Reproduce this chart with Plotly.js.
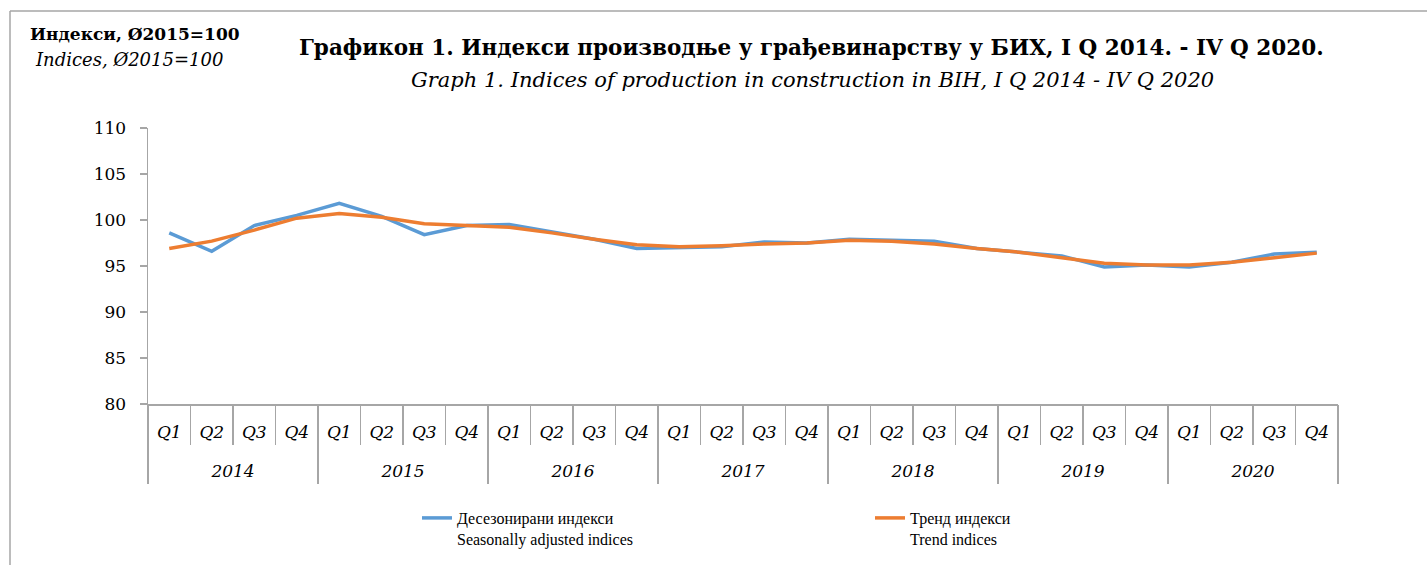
<!DOCTYPE html>
<html>
<head>
<meta charset="utf-8">
<script src="https://cdn.plot.ly/plotly-3.0.1.min.js"></script>
<style>html,body{margin:0;padding:0;background:#fff;}#chart{width:1427px;height:565px;}</style>
</head>
<body>
<div id="chart"></div>
<script>
const years = ['2014','2015','2016','2017','2018','2019','2020'];
const quarters = ['Q1','Q2','Q3','Q4'];
const seasonallyAdjusted = [
  98.6, 96.6, 99.4, 100.5,
  101.8, 100.4, 98.4, 99.4,
  99.5, 98.7, 97.9, 96.9,
  97.0, 97.1, 97.6, 97.5,
  97.9, 97.8, 97.7, 96.9,
  96.5, 96.1, 94.9, 95.1,
  94.9, 95.4, 96.3, 96.5
];
const trendIndices = [
  96.9, 97.7, 98.9, 100.2,
  100.7, 100.3, 99.6, 99.4,
  99.2, 98.6, 97.9, 97.3,
  97.1, 97.2, 97.4, 97.5,
  97.8, 97.7, 97.4, 96.9,
  96.5, 95.9, 95.3, 95.1,
  95.1, 95.4, 95.9, 96.4
];
const seriesNames = ['Десезонирани индекси<br>Seasonally adjusted indices', 'Тренд индекси<br>Trend indices'];
const yTicks = [80, 85, 90, 95, 100, 105, 110];

// one category per quarter (unique key), labelled with the quarter name
const periodKeys = [], periodLabels = [];
years.forEach(y => quarters.forEach(q => { periodKeys.push(y + ' ' + q); periodLabels.push(q); }));

const SERIF = 'DejaVu Serif, serif';
const NARROW = 'Liberation Serif, serif';
const AX = '#A6A6A6';

const traces = [
  {x: periodKeys, y: seasonallyAdjusted, name: seriesNames[0], type: 'scatter', mode: 'lines',
   line: {color: '#5B9BD5', width: 3.5}},
  {x: periodKeys, y: trendIndices, name: seriesNames[1], type: 'scatter', mode: 'lines',
   line: {color: '#ED7D31', width: 3.5}},
  // carrier for the year axis (no visible marks)
  {x: years, y: years.map(() => null), xaxis: 'x2', type: 'scatter', mode: 'lines',
   showlegend: false, hoverinfo: 'skip'}
];

const px2x = p => (p - 148) / 1190;
const px2y = p => (404 - p) / 276;

const layout = {
  width: 1427, height: 565,
  margin: {l: 148, r: 89, t: 128, b: 161, autoexpand: false},
  paper_bgcolor: '#fff', plot_bgcolor: '#fff',
  font: {family: SERIF, color: '#000', size: 18},
  showlegend: true,
  legend: {orientation: 'h', x: px2x(417), xanchor: 'left', y: px2y(501), yanchor: 'top',
           font: {family: NARROW, size: 16, color: '#000'}, entrywidth: 408, valign: 'top',
           tracegroupgap: 0, itemclick: false},
  xaxis: {type: 'category', categoryorder: 'array', categoryarray: periodKeys,
          range: [-0.5, 27.5], automargin: false,
          tickmode: 'array', tickvals: periodKeys, ticktext: periodLabels,
          tickson: 'boundaries',
          showline: true, linecolor: AX, linewidth: 1.5,
          ticks: 'outside', ticklen: 39, tickcolor: AX, tickwidth: 1.5,
          ticklabelstandoff: 12,
          tickfont: {family: SERIF, size: 17, style: 'italic', color: '#000'},
          showgrid: false, zeroline: false, fixedrange: true},
  xaxis2: {type: 'category', categoryorder: 'array', categoryarray: years,
           overlaying: 'x', anchor: 'y', side: 'bottom',
           range: [-0.5, 6.5], automargin: false,
           tickson: 'boundaries', showline: false,
           ticks: 'outside', ticklen: 79, tickcolor: AX, tickwidth: 1.5,
           ticklabelstandoff: 55,
           tickfont: {family: SERIF, size: 17, style: 'italic', color: '#000'},
           showgrid: false, zeroline: false, fixedrange: true},
  yaxis: {range: [80, 110], tickvals: yTicks, ticktext: yTicks.map(String), automargin: false,
          showline: true, linecolor: AX, linewidth: 1.5, ticks: 'outside', ticklen: 7,
          tickcolor: AX, tickwidth: 1.5, showgrid: false, zeroline: false,
          tickfont: {family: SERIF, size: 17, color: '#000'}, ticklabelstandoff: 10, fixedrange: true},
  annotations: [
    {text: '<b>Графикон 1. Индекси производње у грађевинарству у БИХ, I Q 2014. - IV Q 2020.</b>',
     xref: 'paper', yref: 'paper', x: px2x(811), y: px2y(47), xanchor: 'center', yanchor: 'middle',
     showarrow: false, font: {family: SERIF, size: 21.5, color: '#000'}},
    {text: '<i>Graph 1. Indices of production in construction in BIH, I Q 2014 - IV Q 2020</i>',
     xref: 'paper', yref: 'paper', x: px2x(812), y: px2y(80), xanchor: 'center', yanchor: 'middle',
     showarrow: false, font: {family: SERIF, size: 21, color: '#000'}},
    {text: '<b>Индекси, Ø2015=100</b>',
     xref: 'paper', yref: 'paper', x: px2x(135), y: px2y(34), xanchor: 'center', yanchor: 'middle',
     showarrow: false, font: {family: SERIF, size: 17, color: '#000'}},
    {text: '<i>Indices, Ø2015=100</i>',
     xref: 'paper', yref: 'paper', x: px2x(129), y: px2y(59), xanchor: 'center', yanchor: 'middle',
     showarrow: false, font: {family: SERIF, size: 18, color: '#000'}}
  ],
  shapes: [
    {type: 'line', xref: 'paper', yref: 'paper', x0: px2x(10), x1: px2x(1427), y0: px2y(11), y1: px2y(11),
     line: {color: AX, width: 1.5}},
    {type: 'line', xref: 'paper', yref: 'paper', x0: px2x(10), x1: px2x(10), y0: px2y(11), y1: px2y(565),
     line: {color: AX, width: 1.5}}
  ]
};

Plotly.newPlot('chart', traces, layout, {displayModeBar: false, staticPlot: true});
</script>
</body>
</html>
